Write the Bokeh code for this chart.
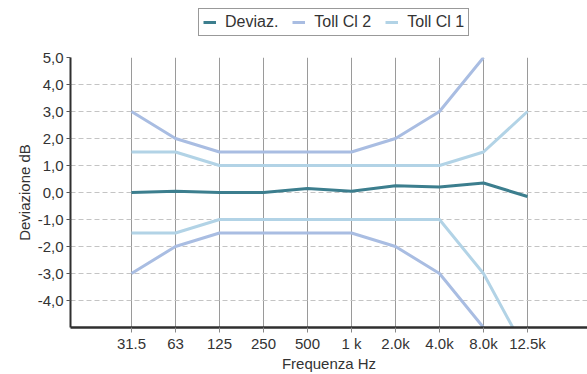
import math
from bokeh.plotting import figure
from bokeh.layouts import column
from bokeh.models import Range1d, FixedTicker, Legend, LegendItem
from bokeh.embed import file_html
from bokeh.resources import INLINE

# ---- data ----
categories = ["31.5", "63", "125", "250", "500", "1 k", "2.0k", "4.0k", "8.0k", "12.5k"]
deviaz = [0.0, 0.05, 0.0, 0.0, 0.15, 0.05, 0.25, 0.2, 0.35, -0.15]
cl2_upper = [3.0, 2.0, 1.5, 1.5, 1.5, 1.5, 2.0, 3.0, 5.0, math.nan]
cl2_lower = [-3.0, -2.0, -1.5, -1.5, -1.5, -1.5, -2.0, -3.0, -5.0, math.nan]
cl1_upper = [1.5, 1.5, 1.0, 1.0, 1.0, 1.0, 1.0, 1.0, 1.5, 3.0]
cl1_lower = [-1.5, -1.5, -1.0, -1.0, -1.0, -1.0, -1.0, -1.0, -3.0, -6.0]
y_ticks = [-4, -3, -2, -1, 0, 1, 2, 3, 4, 5]
y_tick_labels = ["-4,0", "-3,0", "-2,0", "-1,0", "0,0", "1,0", "2,0", "3,0", "4,0", "5,0"]
series_names = ["Deviaz.", "Toll Cl 2", "Toll Cl 1"]

x_pos = list(range(len(categories)))

FONT = "Liberation Sans"
TXT = "#333333"
c_dev = "#3c7e8e"
c_cl2 = "#a9bde2"
c_cl1 = "#b2d3e6"
series_colors = [c_dev, c_cl2, c_cl1]
series_values = [deviaz, cl2_upper, cl1_upper]

# ---------------- main chart ----------------
p = figure(width=587, height=329, output_backend="svg", toolbar_location=None,
           x_range=Range1d(-1.386, 10.364), y_range=Range1d(-5, 5),
           min_border_left=70, min_border_top=12, min_border_right=0, min_border_bottom=46,
           background_fill_color="white", border_fill_color="white")
p.outline_line_color = None

p.xgrid.ticker = FixedTicker(ticks=x_pos)
p.xgrid.grid_line_color = "#9a9a9a"
p.xgrid.grid_line_width = 1
p.ygrid.ticker = FixedTicker(ticks=y_ticks)
p.ygrid.grid_line_color = "#c4c4c4"
p.ygrid.grid_line_dash = "5 3"
p.ygrid.grid_line_width = 1

xa = p.xaxis[0]
xa.ticker = FixedTicker(ticks=x_pos)
xa.major_label_overrides = {i: c for i, c in zip(x_pos, categories)}
xa.axis_line_width = 2.5
xa.axis_line_color = "#2f2f2f"
xa.major_tick_line_color = "#888888"
xa.major_tick_in = 0
xa.major_tick_out = 5
xa.minor_tick_line_color = None
xa.major_label_text_font = FONT
xa.major_label_text_font_size = "15px"
xa.major_label_text_color = TXT
xa.major_label_standoff = 2
xa.axis_label = "Frequenza Hz"
xa.axis_label_text_font = FONT
xa.axis_label_text_font_size = "15px"
xa.axis_label_text_font_style = "normal"
xa.axis_label_text_color = TXT
xa.axis_label_standoff = 0

ya = p.yaxis[0]
ya.ticker = FixedTicker(ticks=y_ticks)
ya.major_label_overrides = {t: l for t, l in zip(y_ticks, y_tick_labels)}
ya.axis_line_width = 2
ya.axis_line_color = "#2f2f2f"
ya.major_tick_line_color = "#555555"
ya.major_tick_in = 0
ya.major_tick_out = 4
ya.minor_tick_line_color = None
ya.major_label_text_font = FONT
ya.major_label_text_font_size = "15px"
ya.major_label_text_color = TXT
ya.major_label_standoff = 3
ya.axis_label = "Deviazione dB"
ya.axis_label_text_font = FONT
ya.axis_label_text_font_size = "15px"
ya.axis_label_text_font_style = "normal"
ya.axis_label_text_color = TXT
ya.axis_label_standoff = 2

p.line(x_pos, cl2_upper, line_width=3, line_color=c_cl2)
p.line(x_pos, cl2_lower, line_width=3, line_color=c_cl2)
p.line(x_pos, cl1_upper, line_width=3, line_color=c_cl1)
p.line(x_pos, cl1_lower, line_width=3, line_color=c_cl1)
p.line(x_pos, deviaz, line_width=3, line_color=c_dev)

# ---------------- legend strip above ----------------
# same series drawn here only to feed the legend; the strip's y range lies
# far away from the data so the lines themselves stay out of view
lf = figure(width=587, height=45, output_backend="svg", toolbar_location=None,
            x_axis_location=None, y_axis_location=None,
            x_range=Range1d(-1.386, 10.364), y_range=Range1d(100, 101),
            min_border=0, background_fill_color="white", border_fill_color="white")
lf.outline_line_color = None
lf.xgrid.visible = False
lf.ygrid.visible = False
items = []
for name, col, vals in zip(series_names, series_colors, series_values):
    r = lf.line(x_pos, vals, line_width=3, line_color=col)
    items.append(LegendItem(label=name, renderers=[r]))

legend = Legend(items=items, orientation="horizontal", location=(128, 9))
legend.label_text_font = FONT
legend.label_text_font_size = "16px"
legend.label_text_color = TXT
legend.glyph_width = 13
legend.glyph_height = 18
legend.label_height = 18
legend.label_standoff = 9
legend.spacing = 14
legend.padding = 4
legend.margin = 0
legend.border_line_color = "#333333"
legend.border_line_width = 1.5
legend.background_fill_color = "white"
legend.background_fill_alpha = 1
lf.add_layout(legend, "center")

layout = column(lf, p, spacing=0)
open("out.html", "w").write(file_html(layout, INLINE))
